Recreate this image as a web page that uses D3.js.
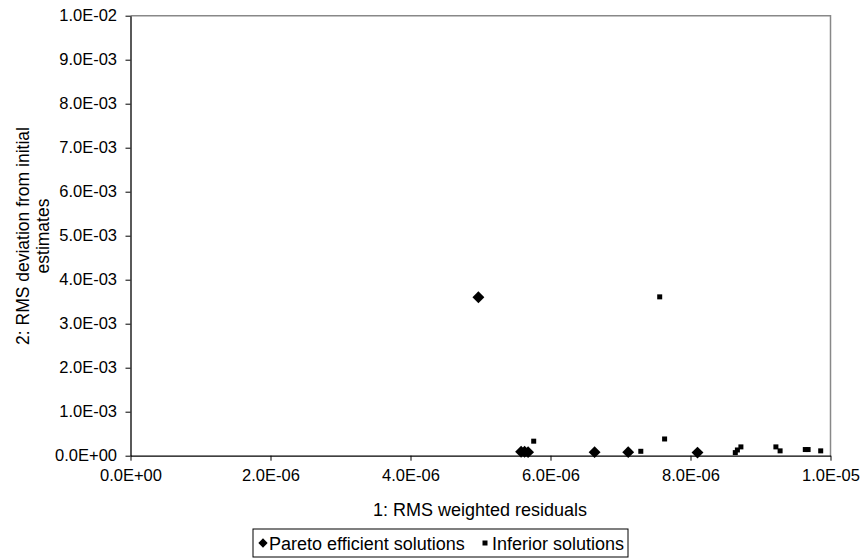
<!DOCTYPE html>
<html>
<head>
<meta charset="utf-8">
<script src="https://cdn.jsdelivr.net/npm/d3@7"></script>
<style>
  body { margin: 0; background: #fff; }
  text { font-family: "Liberation Sans", Arial, sans-serif; fill: #000; }
</style>
</head>
<body>
<div id="chart-area"></div>
<script>
// data
const paretoX = [4.97e-6, 5.58e-6, 5.63e-6, 5.68e-6, 6.63e-6, 7.11e-6, 8.10e-6];
const paretoY = [3.60e-3, 9e-5, 9e-5, 8e-5, 8e-5, 8e-5, 7e-5];
const inferiorX = [7.56e-6, 5.76e-6, 7.29e-6, 7.63e-6, 8.64e-6, 8.67e-6, 8.72e-6, 9.22e-6, 9.28e-6, 9.64e-6, 9.68e-6, 9.86e-6];
const inferiorY = [3.61e-3, 3.3e-4, 1.0e-4, 3.8e-4, 7e-5, 1.3e-4, 2.0e-4, 2.0e-4, 1.1e-4, 1.4e-4, 1.4e-4, 1.1e-4];
const xTicks = [0, 2e-6, 4e-6, 6e-6, 8e-6, 1e-5];
const yTicks = [0, 1e-3, 2e-3, 3e-3, 4e-3, 5e-3, 6e-3, 7e-3, 8e-3, 9e-3, 1e-2];
const seriesNames = ['Pareto efficient solutions', 'Inferior solutions'];

const margin = {left: 130.5, right: 35.5, top: 15.7, bottom: 104.3};
const width = 866 - margin.left - margin.right;
const height = 560 - margin.top - margin.bottom;

const svg = d3.select('#chart-area')
  .append('svg')
  .attr('width', 866)
  .attr('height', 560);

const g = svg.append('g')
  .attr('transform', `translate(${margin.left}, ${margin.top})`);

const x = d3.scaleLinear().domain([0, 1e-5]).range([0, width]);
const y = d3.scaleLinear().domain([0, 1e-2]).range([height, 0]);

// format like 1.0E-02
const sci = v => {
  if (v === 0) return '0.0E+00';
  const e = Math.floor(Math.log10(v) + 1e-9);
  const m = v / Math.pow(10, e);
  const sign = e < 0 ? '-' : '+';
  return m.toFixed(1) + 'E' + sign + String(Math.abs(e)).padStart(2, '0');
};

// top and right border
g.append('path')
  .attr('d', `M0,0H${width}V${height}`)
  .attr('fill', 'none')
  .attr('stroke', '#888')
  .attr('stroke-width', 1.5);

const xAxis = g.append('g')
  .attr('transform', `translate(0, ${height})`)
  .call(d3.axisBottom(x).tickValues(xTicks).tickFormat(sci).tickSize(5).tickSizeOuter(0));

const yAxis = g.append('g')
  .call(d3.axisLeft(y).tickValues(yTicks).tickFormat(sci).tickSize(5).tickSizeOuter(0));

[xAxis, yAxis].forEach(a => {
  a.select('.domain').attr('stroke', '#000').attr('stroke-width', 1.3);
  a.selectAll('.tick line').attr('stroke', '#000');
  a.selectAll('.tick text').attr('font-size', '16.5px').attr('fill', '#000')
    .attr('font-family', '"Liberation Sans", Arial, sans-serif');
});
xAxis.selectAll('.tick text').attr('y', 14).attr('dy', '0.71em');
yAxis.selectAll('.tick text').attr('x', -13.5);

// axis titles
svg.append('text')
  .attr('x', 480)
  .attr('y', 516)
  .attr('font-size', '18px')
  .attr('text-anchor', 'middle')
  .text('1: RMS weighted residuals');

const yTitle = svg.append('text')
  .attr('transform', 'translate(29, 236) rotate(-90)')
  .attr('font-size', '17.5px')
  .attr('text-anchor', 'middle');
yTitle.append('tspan').attr('x', 0).attr('y', 0).text('2: RMS deviation from initial');
yTitle.append('tspan').attr('x', 0).attr('y', 20).text('estimates');

// points
const diamond = d3.symbol().type(d3.symbolDiamond2).size(90);
const pareto = paretoX.map((v, i) => ({x: v, y: paretoY[i]}));
const inferior = inferiorX.map((v, i) => ({x: v, y: inferiorY[i]}));

g.selectAll('.pareto').data(pareto).enter()
  .append('path')
  .attr('class', 'pareto')
  .attr('d', diamond)
  .attr('transform', d => `translate(${x(d.x)}, ${y(d.y)})`)
  .attr('fill', '#000');

g.selectAll('.inferior').data(inferior).enter()
  .append('rect')
  .attr('class', 'inferior')
  .attr('x', d => x(d.x) - 2.5)
  .attr('y', d => y(d.y) - 2.5)
  .attr('width', 5)
  .attr('height', 5)
  .attr('fill', '#000');

// legend
const legend = svg.append('g').attr('transform', 'translate(253, 529)');
legend.append('rect')
  .attr('width', 375)
  .attr('height', 28)
  .attr('fill', '#fff')
  .attr('stroke', '#000')
  .attr('stroke-width', 1);
legend.append('path')
  .attr('d', d3.symbol().type(d3.symbolDiamond2).size(55))
  .attr('transform', 'translate(10, 14)');
legend.append('text').attr('x', 16).attr('y', 20.5).attr('font-size', '18px').text(seriesNames[0]);
legend.append('rect').attr('x', 229.5).attr('y', 11.5).attr('width', 5).attr('height', 5);
legend.append('text').attr('x', 239).attr('y', 20.5).attr('font-size', '18px').text(seriesNames[1]);
</script>
</body>
</html>
